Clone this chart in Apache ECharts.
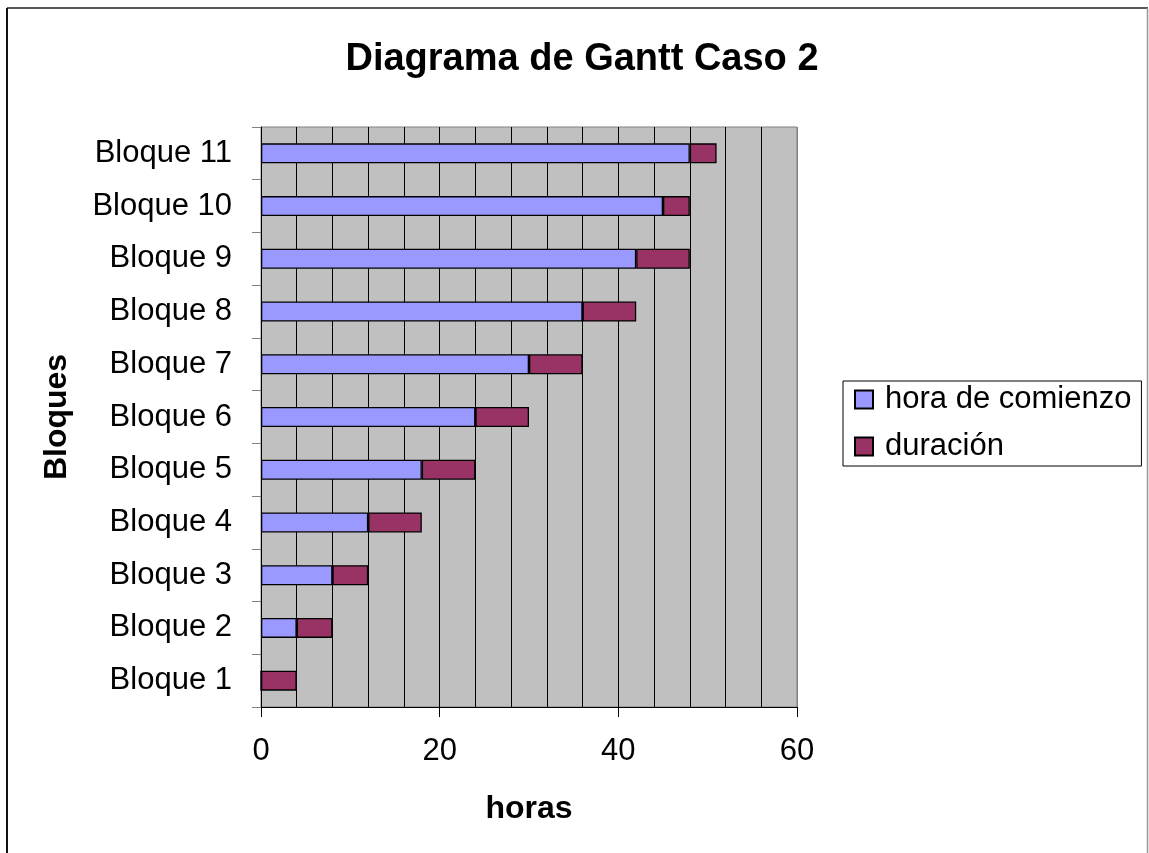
<!DOCTYPE html>
<html>
<head>
<meta charset="utf-8">
<script src="https://cdn.jsdelivr.net/npm/echarts@6/dist/echarts.min.js"></script>
<style>
html,body{margin:0;padding:0;background:#fff;}
#chart{width:1149px;height:853px;}
</style>
</head>
<body>
<div id="chart"></div>
<script>
const categories = ['Bloque 1','Bloque 2','Bloque 3','Bloque 4','Bloque 5','Bloque 6','Bloque 7','Bloque 8','Bloque 9','Bloque 10','Bloque 11'];
const horaComienzo = [0, 4, 8, 12, 18, 24, 30, 36, 42, 45, 48];
const duracion = [4, 4, 4, 6, 6, 6, 6, 6, 6, 3, 3];
const xTicks = [0, 20, 40, 60];

const FONT = '"Liberation Sans", Arial, sans-serif';
const chart = echarts.init(document.getElementById('chart'), null, {renderer: 'canvas'});
chart.setOption({
  animation: false,
  backgroundColor: '#ffffff',
  textStyle: {fontFamily: FONT},
  graphic: [
    {type: 'line', z: -10, shape: {x1: 7, y1: 8, x2: 1148, y2: 8}, style: {stroke: '#222', lineWidth: 1.5}},
    {type: 'line', z: -10, shape: {x1: 7, y1: 8, x2: 7, y2: 853}, style: {stroke: '#111', lineWidth: 2}},
    {type: 'line', z: -10, shape: {x1: 1147.5, y1: 8, x2: 1147.5, y2: 853}, style: {stroke: '#999', lineWidth: 1.5}}
  ],
  title: {
    text: 'Diagrama de Gantt Caso 2',
    left: 577, textAlign: 'center', top: 36,
    textStyle: {fontFamily: FONT, fontSize: 38, fontWeight: 'bold', color: '#000'}
  },
  legend: {
    orient: 'vertical',
    left: 843, top: 381,
    padding: [3, 10, 4, 11],
    itemGap: 16,
    itemWidth: 18, itemHeight: 18,
    icon: 'rect',
    borderColor: '#000', borderWidth: 1,
    backgroundColor: '#fff',
    textStyle: {fontFamily: FONT, fontSize: 31, color: '#000', padding: [0,0,0,7]},
    data: ['hora de comienzo', 'duración']
  },
  grid: {
    left: 261, top: 127, width: 536, height: 580,
    show: true, backgroundColor: '#c0c0c0', borderColor: '#808080', borderWidth: 1,
    containLabel: false
  },
  xAxis: {
    type: 'value', min: xTicks[0], max: xTicks[xTicks.length-1], interval: 20,
    name: 'horas', nameLocation: 'middle', nameGap: 86,
    nameTextStyle: {fontFamily: FONT, fontSize: 32, fontWeight: 'bold', color: '#000'},
    axisLine: {show: true, lineStyle: {color: '#000', width: 1}},
    axisTick: {show: true, length: 10, lineStyle: {color: '#000'}},
    axisLabel: {margin: 29, fontFamily: FONT, fontSize: 31, color: '#000'},
    splitLine: {show: true, lineStyle: {color: ['#000', '#000', '#000', '#808080'], width: 1}},
    minorTick: {show: false, splitNumber: 5},
    minorSplitLine: {show: true, lineStyle: {color: '#000', width: 1}}
  },
  yAxis: {
    type: 'category', data: categories,
    name: 'Bloques', nameLocation: 'middle', nameGap: 188, nameRotate: 90,
    nameTextStyle: {fontFamily: FONT, fontSize: 32, fontWeight: 'bold', color: '#000'},
    axisLine: {show: true, lineStyle: {color: '#000', width: 1}},
    axisTick: {show: true, length: 9, lineStyle: {color: '#808080'}},
    axisLabel: {margin: 29, fontFamily: FONT, fontSize: 31, color: '#000'},
    splitLine: {show: false}
  },
  series: [
    {
      name: 'hora de comienzo', type: 'bar', stack: 'g', barWidth: 20,
      itemStyle: {color: '#9999ff', borderColor: '#000', borderWidth: 1.3},
      data: horaComienzo
    },
    {
      name: 'duración', type: 'bar', stack: 'g', barWidth: 20,
      itemStyle: {color: '#993366', borderColor: '#000', borderWidth: 1.3},
      data: duracion
    }
  ]
});
</script>
</body>
</html>
